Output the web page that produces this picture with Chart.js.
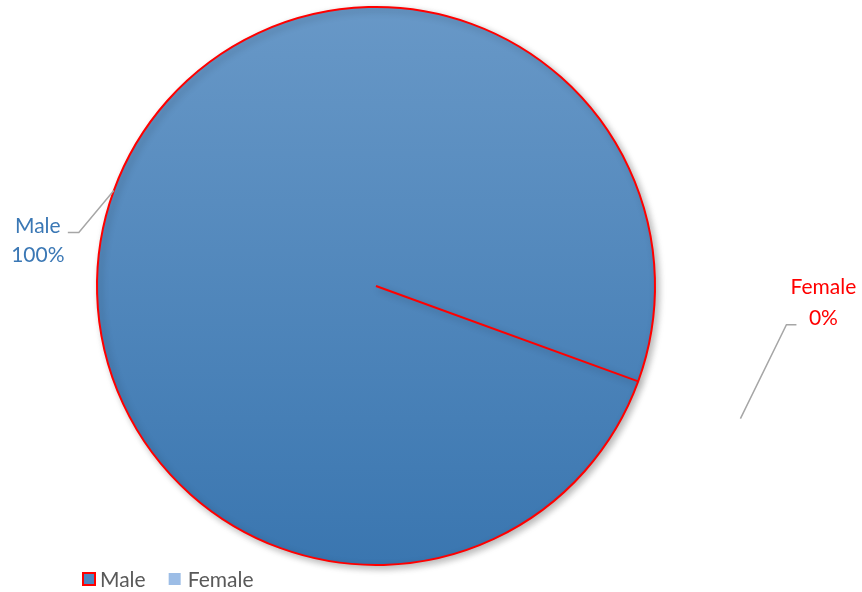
<!DOCTYPE html>
<html lang="en">
<head>
    <meta charset="UTF-8">
    <title>Male / Female</title>
    <style>
        html, body { margin: 0; padding: 0; background: #ffffff; }
        #wrap { width: 862px; height: 592px; position: relative; }
    </style>
</head>
<body>
    <div id="wrap">
        <canvas id="genderChart" width="862" height="592"></canvas>
    </div>

    <script src="https://cdn.jsdelivr.net/npm/chart.js"></script>
    <script>
        // Dados do gráfico
        const labels = ['Male', 'Female'];
        const values = [100, 0];
        const labelColors = ['#3b78b5', '#ff0000'];
        const legendColors = ['#4a86c0', '#9cbde6'];

        const FONT = 'Lato, "Open Sans", sans-serif';

        // Sombra leve atrás da pizza
        const shadowPlugin = {
            id: 'shadow',
            beforeDatasetsDraw(chart) {
                const c = chart.ctx;
                c.save();
                c.shadowColor = 'rgba(0,0,0,0.28)';
                c.shadowBlur = 7;
                c.shadowOffsetX = 3;
                c.shadowOffsetY = 3;
            },
            afterDatasetsDraw(chart) {
                chart.ctx.restore();
            }
        };

        // Rótulos com linhas guia (estilo Excel)
        const labelPlugin = {
            id: 'leaderLabels',
            afterDatasetsDraw(chart) {
                const c = chart.ctx;
                const meta = chart.getDatasetMeta(0);
                const total = values.reduce((a, b) => a + b, 0);
                c.save();
                c.font = '21px ' + FONT;
                c.textAlign = 'center';
                c.textBaseline = 'middle';
                c.lineWidth = 1.5;
                c.strokeStyle = '#a6a6a6';

                meta.data.forEach((arc, i) => {
                    const mid = (arc.startAngle + arc.endAngle) / 2;
                    const pct = Math.round(values[i] / total * 100) + '%';
                    let p1, p2, p3, tx, ty1, ty2;
                    if (i === 0) {
                        const r = arc.outerRadius;
                        p1 = { x: arc.x + Math.cos(mid) * r, y: arc.y + Math.sin(mid) * r };
                        p2 = { x: p1.x - 35, y: p1.y + 42 };
                        p3 = { x: p2.x - 11, y: p2.y };
                        tx = p3.x - 30; ty1 = p3.y - 6; ty2 = p3.y + 23;
                    } else {
                        const r = arc.outerRadius * 1.39;
                        p1 = { x: arc.x + Math.cos(mid) * r, y: arc.y + Math.sin(mid) * r };
                        p2 = { x: p1.x + 46, y: p1.y - 94 };
                        p3 = { x: p2.x + 10, y: p2.y };
                        tx = p3.x + 27; ty1 = p3.y - 37; ty2 = p3.y - 6;
                    }
                    c.beginPath();
                    c.moveTo(p1.x, p1.y);
                    c.lineTo(p2.x, p2.y);
                    c.lineTo(p3.x, p3.y);
                    c.stroke();

                    c.fillStyle = labelColors[i];
                    c.fillText(labels[i], tx, ty1);
                    c.fillText(pct, tx, ty2);
                });
                c.restore();
            }
        };

        // Legenda desenhada à mão no canto inferior esquerdo
        const legendPlugin = {
            id: 'bottomLegend',
            afterDraw(chart) {
                const c = chart.ctx;
                c.save();
                c.font = '21px ' + FONT;
                c.textBaseline = 'middle';
                c.textAlign = 'left';
                let x = 82;
                const y = 579;
                labels.forEach((lab, i) => {
                    if (i === 0) {
                        c.fillStyle = legendColors[0];
                        c.fillRect(x + 1, y - 6, 12, 12);
                        c.strokeStyle = '#ff0000';
                        c.lineWidth = 2;
                        c.strokeRect(x + 1, y - 6, 12, 12);
                        x += 18;
                    } else {
                        c.fillStyle = legendColors[1];
                        c.fillRect(x, y - 6, 12, 12);
                        x += 19;
                    }
                    c.fillStyle = '#595959';
                    c.fillText(lab, x, y + 1);
                    x += c.measureText(lab).width + 23;
                });
                c.restore();
            }
        };

        const ctx = document.getElementById('genderChart').getContext('2d');
        const chart = new Chart(ctx, {
            type: 'pie',
            data: {
                labels: labels,
                datasets: [{
                    data: values,
                    backgroundColor: function (context) {
                        if (context.dataIndex === 1) return legendColors[1];
                        const area = context.chart.chartArea;
                        if (!area) return legendColors[0];
                        const cy = (area.top + area.bottom) / 2;
                        const g = context.chart.ctx.createLinearGradient(0, cy - 279, 0, cy + 279);
                        g.addColorStop(0, '#6898c7');
                        g.addColorStop(1, '#3a76b0');
                        return g;
                    },
                    borderColor: ['#ff0000', '#ff0000'],
                    borderWidth: [2, 0],
                    radius: 279
                }]
            },
            options: {
                responsive: false,
                animation: false,
                rotation: 110,
                layout: { padding: { left: 0, right: 110, top: 0, bottom: 20 } },
                plugins: {
                    legend: { display: false },
                    tooltip: { enabled: false },
                    title: { display: false }
                }
            },
            plugins: [shadowPlugin, labelPlugin, legendPlugin]
        });
    </script>
</body>
</html>
